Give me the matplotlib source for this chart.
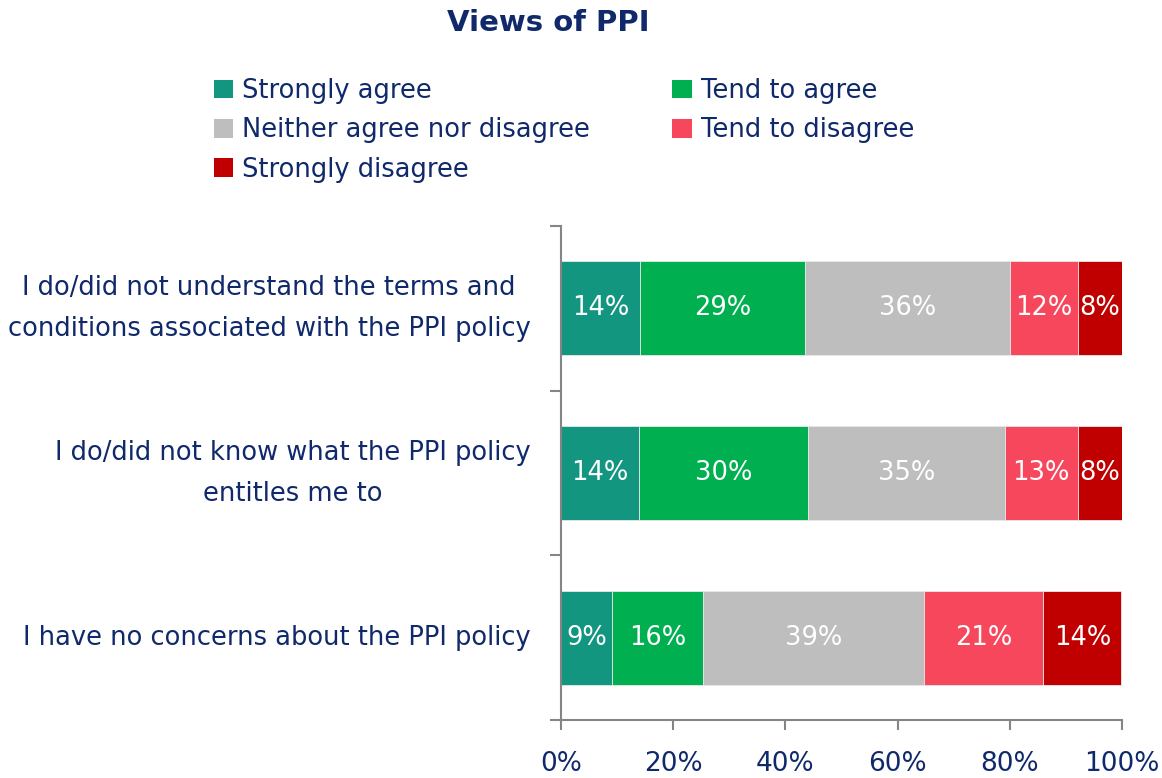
import matplotlib
matplotlib.use('Agg')
import matplotlib.pyplot as plt
import numpy as np
from matplotlib.patches import Patch

# Data (percent of respondents)
statements = [
    'I do/did not understand the terms and\nconditions associated with the PPI policy',
    'I do/did not know what the PPI policy\nentitles me to',
    'I have no concerns about the PPI policy',
]
responses = ['Strongly agree', 'Tend to agree', 'Neither agree nor disagree',
             'Tend to disagree', 'Strongly disagree']
strongly_agree = [14.1, 13.9, 9.1]
tend_agree = [29.4, 30.1, 16.2]
neither = [36.5, 35.1, 39.4]
tend_disagree = [12.1, 13.0, 21.3]
strongly_disagree = [7.9, 7.9, 13.9]
x_ticks = [0, 20, 40, 60, 80, 100]

colors = ['#139680', '#00AF50', '#BEBEBE', '#F7475C', '#C00000']
navy = '#10296B'
axis_grey = '#858585'

plt.rcParams['font.family'] = ['DejaVu Sans']

fig = plt.figure(figsize=(11.62, 7.78), dpi=100)
ax = fig.add_axes([561 / 1162, 1 - 720 / 778, 561 / 1162, 494 / 778])

series = [strongly_agree, tend_agree, neither, tend_disagree, strongly_disagree]
ypos = np.arange(len(statements))
left = np.zeros(len(statements))
for vals, col, name in zip(series, colors, responses):
    vals = np.array(vals)
    bars = ax.barh(ypos, vals, left=left, height=0.57, color=col,
                   edgecolor='#E8E8E8', linewidth=0.6, label=name)
    for b, v in zip(bars, vals):
        ax.text(b.get_x() + b.get_width() / 2, b.get_y() + b.get_height() / 2,
                f'{v:.0f}%', ha='center', va='center', color='white', fontsize=18.5)
    left += vals

ax.set_xlim(0, 100)
ax.set_ylim(len(statements) - 0.5, -0.5)

ax.set_xticks(x_ticks)
ax.set_xticklabels([f'{t}%' for t in x_ticks])
ax.tick_params(axis='x', direction='out', length=7, width=1.5, color=axis_grey,
               labelcolor=navy, labelsize=19, pad=15)

ax.set_yticks(ypos)
ax.set_yticklabels(statements, multialignment='center', linespacing=1.75)
for lbl in ax.get_yticklabels():
    lbl.set_verticalalignment('center')
ax.set_yticks(np.arange(-0.5, len(statements)), minor=True)
ax.tick_params(axis='y', which='major', length=0, labelcolor=navy,
               labelsize=18.5, pad=22)
ax.tick_params(axis='y', which='minor', direction='out', length=8, width=1.5,
               color=axis_grey)

for side in ['top', 'right']:
    ax.spines[side].set_visible(False)
for side in ['left', 'bottom']:
    ax.spines[side].set_color(axis_grey)
    ax.spines[side].set_linewidth(1.5)

fig.text(548 / 1162, 1 - 23 / 778, 'Views of PPI', ha='center', va='center',
         fontsize=21, fontweight='bold', color=navy)

# legend filled row by row like the original
handles = [Patch(facecolor=c, edgecolor='none') for c in colors]
order = [0, 2, 4, 1, 3]
leg = fig.legend([handles[i] for i in order], [responses[i] for i in order],
                 ncol=2, loc='upper left', bbox_to_anchor=(214 / 1162, 1 - 78 / 778),
                 frameon=False, fontsize=18.5, handlelength=0.75, handleheight=0.75,
                 handletextpad=0.35, columnspacing=3.2, labelspacing=0.52,
                 borderaxespad=0, borderpad=0)
for t in leg.get_texts():
    t.set_color(navy)

fig.savefig('out.png', dpi=100)
